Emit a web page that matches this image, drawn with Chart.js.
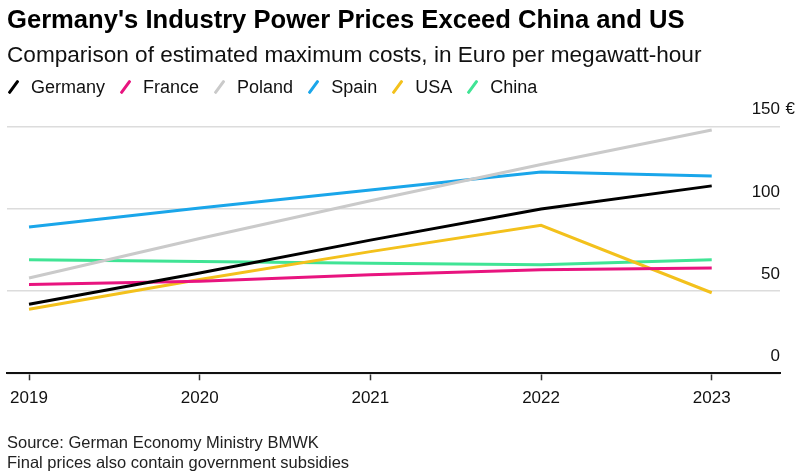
<!DOCTYPE html>
<html>
<head>
<meta charset="utf-8">
<script src="https://cdn.jsdelivr.net/npm/chart.js@4.4.1/dist/chart.umd.min.js"></script>
<style>
  html, body { margin: 0; padding: 0; background: #fff; }
  #wrap { position: relative; width: 800px; height: 476px; overflow: hidden; font-family: "Liberation Sans", Arial, sans-serif; color: #111; }
  #c { position: absolute; left: 0; top: 0; }
  .txt { position: absolute; left: 7px; white-space: nowrap; }
  #title { top: 6.7px; font-size: 25.6px; line-height: 25.6px; font-weight: bold; color: #000; }
  #subtitle { top: 44.3px; font-size: 22.6px; line-height: 22.6px; color: #111; }
  #legend { top: 78.1px; font-size: 18px; line-height: 18px; display: flex; align-items: center; color: #111; }
  .item { display: flex; align-items: center; margin-right: 14px; }
  .mark { width: 12px; height: 16px; position: relative; margin-right: 12px; }
  .mark span { position: absolute; left: 4.5px; top: -0.5px; width: 3.2px; height: 16px; transform: rotate(36deg); border-radius: 1px; }
  #foot1 { top: 433.7px; font-size: 16.5px; line-height: 16.5px; color: #222; }
  #foot2 { top: 453.7px; font-size: 16.5px; line-height: 16.5px; color: #222; }
</style>
</head>
<body>
<div id="wrap">
  <canvas id="c" width="800" height="476"></canvas>
  <div class="txt" id="title">Germany's Industry Power Prices Exceed China and US</div>
  <div class="txt" id="subtitle">Comparison of estimated maximum costs, in Euro per megawatt-hour</div>
  <div class="txt" id="legend"></div>
  <div class="txt" id="foot1">Source: German Economy Ministry BMWK</div>
  <div class="txt" id="foot2">Final prices also contain government subsidies</div>
</div>
<script>
// ---- Data ----
const years = [2019, 2020, 2021, 2022, 2023];
const seriesNames = ["Germany", "France", "Poland", "Spain", "USA", "China"];
const germany = [42, 61, 81, 100, 114];
const france  = [54, 56, 60, 63, 64];
const poland  = [58, 82, 105, 127, 148];
const spain   = [89, 100.5, 111.5, 122.5, 120];
const usa     = [39, 57, 74, 90, 49];
const china   = [69, 68, 67, 66, 69];
const yTickValues = [0, 50, 100, 150];

// ---- Styles ----
const colors = ["#000000", "#e8147f", "#cacaca", "#1aa6ea", "#f3c11c", "#40e495"];
const allSeries = [germany, france, poland, spain, usa, china];

// legend (HTML)
const legendEl = document.getElementById('legend');
seriesNames.forEach((name, i) => {
  const item = document.createElement('div');
  item.className = 'item';
  const m = document.createElement('div');
  m.className = 'mark';
  const s = document.createElement('span');
  s.style.background = colors[i];
  m.appendChild(s);
  const t = document.createElement('span');
  t.textContent = name;
  item.appendChild(m);
  item.appendChild(t);
  legendEl.appendChild(item);
});

const datasets = allSeries.map((arr, i) => ({
  label: seriesNames[i],
  data: arr.map((v, j) => ({ x: years[j], y: v })),
  borderColor: colors[i],
  backgroundColor: colors[i],
  borderWidth: 3,
  pointRadius: 0,
  pointHoverRadius: 0,
  tension: 0,
  fill: false
}));

const euroPlugin = {
  id: 'euro',
  afterDraw(chart) {
    const ys = chart.scales.y;
    const ctx = chart.ctx;
    const py = ys.getPixelForValue(150) - 17;
    ctx.save();
    ctx.font = '17px "Liberation Sans", Arial, sans-serif';
    ctx.fillStyle = '#111';
    ctx.textAlign = 'left';
    ctx.textBaseline = 'middle';
    ctx.fillText('€', chart.chartArea.right + 5.5, py);
    ctx.restore();
  }
};

Chart.defaults.font.family = '"Liberation Sans", Arial, sans-serif';

new Chart(document.getElementById('c'), {
  type: 'line',
  data: { datasets },
  plugins: [euroPlugin],
  options: {
    responsive: false,
    animation: false,
    devicePixelRatio: 1,
    layout: { padding: { left: 7, right: 20, top: 126.7, bottom: 59.3 } },
    plugins: { legend: { display: false }, tooltip: { enabled: false }, title: { display: false } },
    scales: {
      x: {
        type: 'linear',
        min: 2018.871,
        max: 2023.4,
        afterBuildTicks: (scale) => { scale.ticks = years.map(v => ({ value: v })); },
        grid: { drawOnChartArea: false, drawTicks: true, tickLength: 7, tickColor: '#333', tickWidth: 1.5 },
        border: { display: true, color: '#111', width: 2 },
        ticks: {
          font: { size: 17 },
          color: '#111',
          padding: 8,
          maxRotation: 0,
          autoSkip: false,
          callback: (v) => String(v)
        }
      },
      y: {
        position: 'right',
        min: 0,
        max: 150,
        afterBuildTicks: (scale) => { scale.ticks = yTickValues.map(v => ({ value: v })); },
        grid: { color: '#dcdcdc', lineWidth: 1.5, drawTicks: false, tickLength: 0 },
        border: { display: false },
        ticks: {
          mirror: true,
          padding: 0,
          labelOffset: -17,
          font: { size: 17 },
          color: '#111',
          callback: (v) => String(v)
        }
      }
    }
  }
});
</script>
</body>
</html>
